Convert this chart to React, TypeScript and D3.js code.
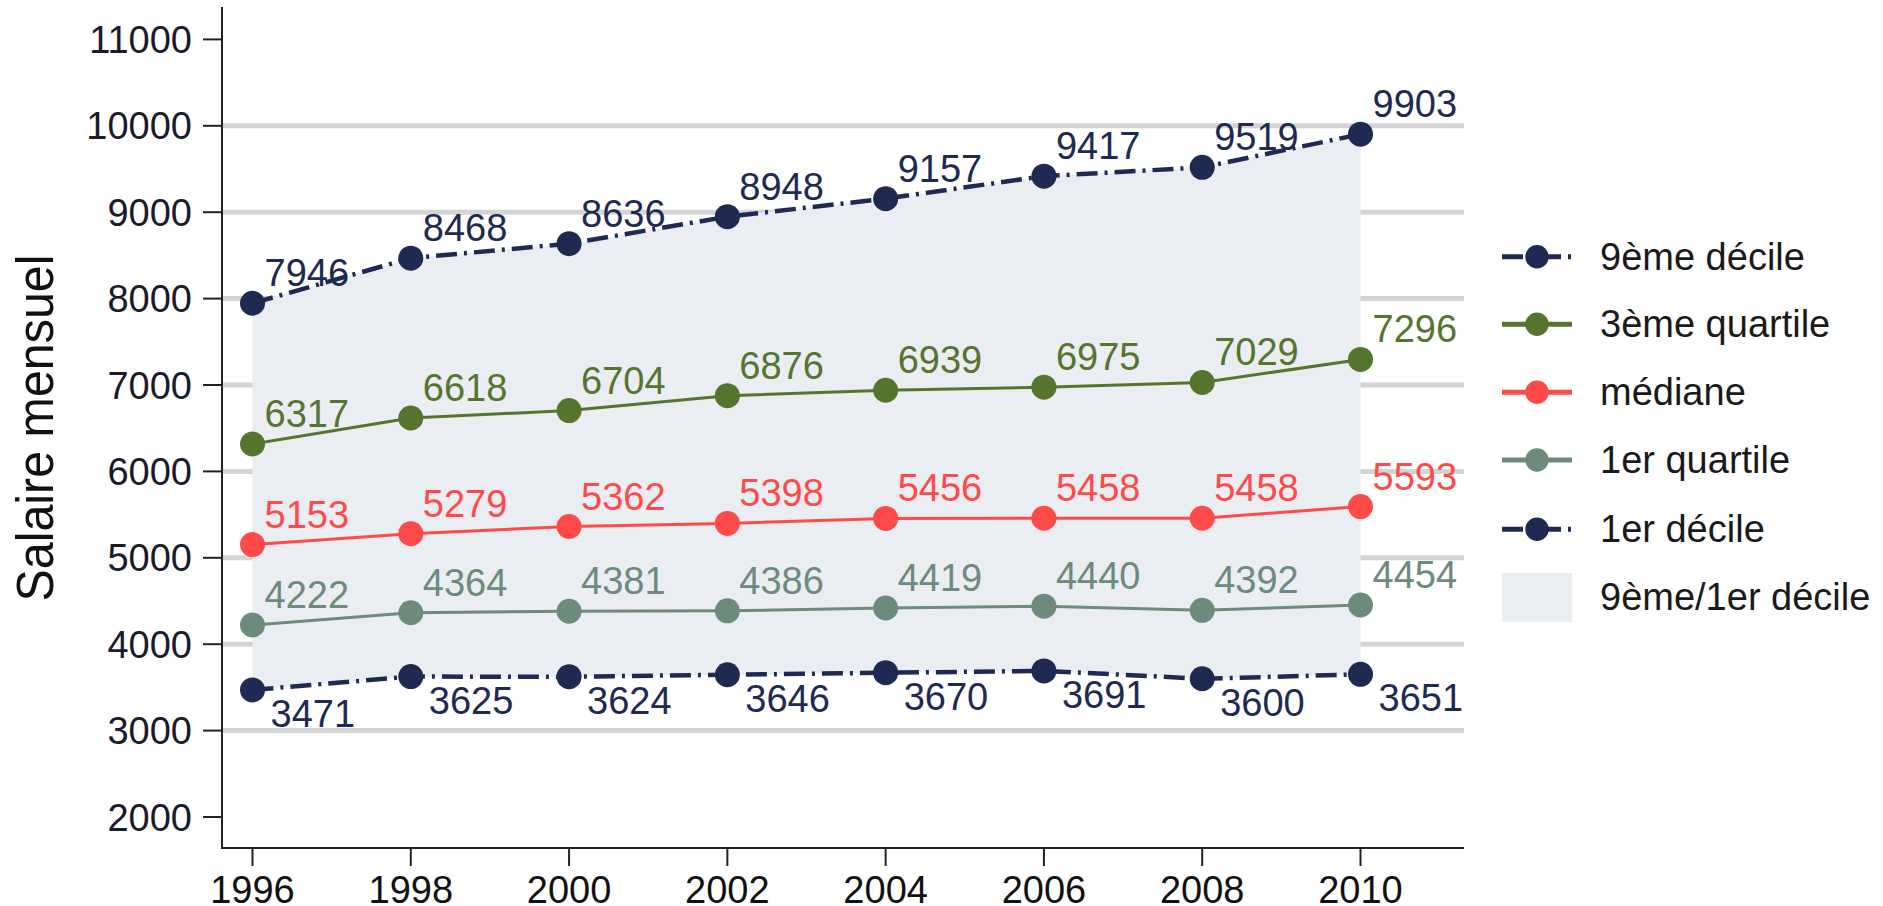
import React from "react";
import * as d3 from "d3";

const years = [1996, 1998, 2000, 2002, 2004, 2006, 2008, 2010];
const decile9 = [7946, 8468, 8636, 8948, 9157, 9417, 9519, 9903];
const quartile3 = [6317, 6618, 6704, 6876, 6939, 6975, 7029, 7296];
const mediane = [5153, 5279, 5362, 5398, 5456, 5458, 5458, 5593];
const quartile1 = [4222, 4364, 4381, 4386, 4419, 4440, 4392, 4454];
const decile1 = [3471, 3625, 3624, 3646, 3670, 3691, 3600, 3651];
const yTicks = [2000, 3000, 4000, 5000, 6000, 7000, 8000, 9000, 10000, 11000];
const gridTicks = [3000, 4000, 5000, 6000, 7000, 8000, 9000, 10000];
const legendLabels = ["9ème décile", "3ème quartile", "médiane", "1er quartile", "1er décile", "9ème/1er décile"];

const NAVY = "#1e2a52";
const GREEN = "#55752f";
const RED = "#ff4a4a";
const TEAL = "#6c8b7c";
const AREA = "#eaeef2";
const FONT = "'Liberation Sans', Arial, Helvetica, sans-serif";

type S = { name: string; values: number[]; color: string; dashed: boolean; below: boolean };

const series: S[] = [
  { name: legendLabels[0], values: decile9, color: NAVY, dashed: true, below: false },
  { name: legendLabels[1], values: quartile3, color: GREEN, dashed: false, below: false },
  { name: legendLabels[2], values: mediane, color: RED, dashed: false, below: false },
  { name: legendLabels[3], values: quartile1, color: TEAL, dashed: false, below: false },
  { name: legendLabels[4], values: decile1, color: NAVY, dashed: true, below: true },
];

export default function App() {
  const W = 1883, H = 906;
  const x = d3.scaleLinear().domain([1996, 2010]).range([252.5, 1360.5]);
  const y = d3.scaleLinear().domain([2000, 11000]).range([817, 39.4]);
  const axisLeft = 222, axisRight = 1464, axisBottom = 848, axisTop = 7;

  const area = d3
    .area<number>()
    .x((_, i) => x(years[i]))
    .y0((_, i) => y(decile1[i]))
    .y1((_, i) => y(decile9[i]));

  const line = (vals: number[]) =>
    d3
      .line<number>()
      .x((_, i) => x(years[i]))
      .y((v) => y(v))(vals) || "";

  const drawOrder = [series[4], series[3], series[2], series[1], series[0]];
  const legendY = [256.7, 324.3, 392.3, 460, 529.3];

  return (
    <svg
      width={W}
      height={H}
      style={{ position: "absolute", left: 0, top: 0, background: "#fff" }}
      fontFamily={FONT}
    >
      <rect x={0} y={0} width={W} height={H} fill="#fff" />
      {gridTicks.map((t) => (
        <line key={t} x1={axisLeft} x2={axisRight} y1={y(t)} y2={y(t)} stroke="#d4d4d4" strokeWidth={5} />
      ))}
      <path d={area(decile1) || ""} fill={AREA} />

      {drawOrder.map((s) => (
        <path
          key={s.name}
          d={line(s.values)}
          fill="none"
          stroke={s.color}
          strokeWidth={s.dashed ? 4.5 : 3}
          strokeDasharray={s.dashed ? "21,7,3,7" : undefined}
        />
      ))}
      {drawOrder.map((s) =>
        s.values.map((v, i) => (
          <circle key={s.name + i} cx={x(years[i])} cy={y(v)} r={12.5} fill={s.color} />
        ))
      )}
      {drawOrder.map((s) =>
        s.values.map((v, i) => (
          <text
            key={"l" + s.name + i}
            x={x(years[i]) + (s.below ? 18 : 12)}
            y={y(v) + (s.below ? 37 : -17)}
            fontSize={38}
            fill={s.color}
          >
            {v}
          </text>
        ))
      )}

      {/* axes */}
      <line x1={axisLeft} x2={axisLeft} y1={axisTop} y2={axisBottom} stroke="#222" strokeWidth={2} />
      <line x1={axisLeft - 1} x2={axisRight} y1={axisBottom} y2={axisBottom} stroke="#222" strokeWidth={2} />
      {yTicks.map((t) => (
        <g key={"yt" + t}>
          <line x1={axisLeft - 19} x2={axisLeft} y1={y(t)} y2={y(t)} stroke="#222" strokeWidth={2} />
          <text x={192} y={y(t) + 13.5} fontSize={38} textAnchor="end" fill="#1a1a2a">
            {t}
          </text>
        </g>
      ))}
      {years.map((yr) => (
        <g key={"xt" + yr}>
          <line x1={x(yr)} x2={x(yr)} y1={axisBottom} y2={axisBottom + 18} stroke="#222" strokeWidth={2} />
          <text x={x(yr)} y={903} fontSize={38} textAnchor="middle" fill="#111">
            {yr}
          </text>
        </g>
      ))}
      <text
        transform={`translate(53,428) rotate(-90)`}
        fontSize={52}
        textAnchor="middle"
        textLength={347}
        lengthAdjust="spacingAndGlyphs"
        fill="#111"
      >
        Salaire mensuel
      </text>

      {/* legend */}
      {series.map((s, i) => (
        <g key={"lg" + i}>
          <line
            x1={1502}
            x2={1572}
            y1={legendY[i]}
            y2={legendY[i]}
            stroke={s.color}
            strokeWidth={5}
            strokeDasharray={s.dashed ? "21,7,3,7" : undefined}
          />
          <circle cx={1537} cy={legendY[i]} r={11.7} fill={s.color} />
          <text x={1600} y={legendY[i] + 13} fontSize={38} fill="#1a1a1a">
            {s.name}
          </text>
        </g>
      ))}
      <rect x={1502} y={573} width={70} height={49} fill={AREA} />
      <text x={1600} y={610} fontSize={38} fill="#1a1a1a">
        {legendLabels[5]}
      </text>
    </svg>
  );
}
